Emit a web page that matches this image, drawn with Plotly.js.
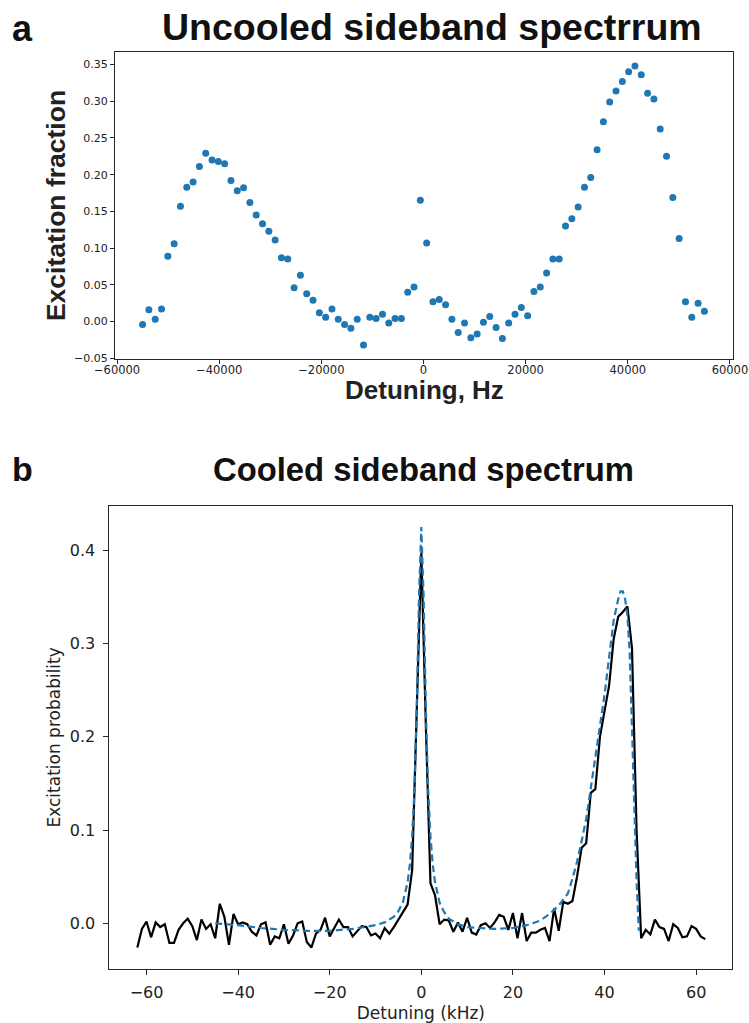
<!DOCTYPE html>
<html>
<head>
<meta charset="utf-8">
<script src="https://cdn.plot.ly/plotly-3.0.1.min.js"></script>
<style>html,body{margin:0;padding:0;background:#fff;}#chart{width:749px;height:1023px;}</style>
</head>
<body>
<div id="chart"></div>
<script>
// ---- Panel a: uncooled sideband spectrum (Hz, excitation fraction) ----
var uncooledDetuning = [-55000, -53764, -52528, -51292, -50056, -48820, -47584, -46348, -45112, -43876,
  -42640, -41404, -40169, -38933, -37697, -36461, -35225, -33989, -32753, -31517,
  -30281, -29045, -27809, -26573, -25337, -24101, -22865, -21629, -20393, -19157,
  -17921, -16685, -15449, -14213, -12978, -11742, -10506, -9270, -8034, -6798,
  -5562, -4326, -3090, -1854, -618, 618, 1854, 3090, 4326, 5562,
  6798, 8034, 9270, 10506, 11742, 12978, 14213, 15449, 16685, 17921,
  19157, 20393, 21629, 22865, 24101, 25337, 26573, 27809, 29045, 30281,
  31517, 32753, 33989, 35225, 36461, 37697, 38933, 40169, 41404, 42640,
  43876, 45112, 46348, 47584, 48820, 50056, 51292, 52528, 53764, 55000];
var uncooledFraction = [-0.004, 0.016, 0.003, 0.017, 0.089, 0.106, 0.157, 0.183, 0.190, 0.211,
  0.229, 0.220, 0.218, 0.215, 0.192, 0.178, 0.182, 0.162, 0.145, 0.133,
  0.123, 0.111, 0.087, 0.085, 0.046, 0.063, 0.038, 0.029, 0.012, 0.006,
  0.017, 0.003, -0.004, -0.009, 0.003, -0.032, 0.006, 0.004, 0.010, -0.002,
  0.004, 0.004, 0.040, 0.047, 0.165, 0.107, 0.027, 0.030, 0.023, 0.003,
  -0.015, -0.002, -0.022, -0.017, -0.001, 0.007, -0.008, -0.023, -0.002, 0.010,
  0.019, 0.008, 0.041, 0.047, 0.066, 0.085, 0.085, 0.130, 0.140, 0.156,
  0.183, 0.196, 0.234, 0.272, 0.299, 0.314, 0.327, 0.340, 0.348, 0.336,
  0.311, 0.303, 0.262, 0.225, 0.169, 0.113, 0.027, 0.006, 0.025, 0.014];
var topXTickVals = [-60000, -40000, -20000, 0, 20000, 40000, 60000];
var topXTickText = ['\u221260000', '\u221240000', '\u221220000', '0', '20000', '40000', '60000'];
var topYTickVals = [-0.05, 0, 0.05, 0.10, 0.15, 0.20, 0.25, 0.30, 0.35];
var topYTickText = ['\u22120.05', '0.00', '0.05', '0.10', '0.15', '0.20', '0.25', '0.30', '0.35'];

// ---- Panel b: cooled sideband spectrum (kHz, excitation probability) ----
var cooledDetuning = [-62, -61, -60, -59, -58, -57, -56, -55, -54, -53,
  -52, -51, -50, -49, -48, -47, -46, -45, -44, -43,
  -42, -41, -40, -39, -38, -37, -36, -35, -34, -33,
  -32, -31, -30, -29, -28, -27, -26, -25, -24, -23,
  -22, -21, -20, -19, -18, -17, -16, -15, -14, -13,
  -12, -11, -10, -9, -8, -7, -6, -5, -4, -3,
  -2, -1, 0, 1, 2, 3, 4, 5, 6, 7,
  8, 9, 10, 11, 12, 13, 14, 15, 16, 17,
  18, 19, 20, 21, 22, 23, 24, 25, 26, 27,
  28, 29, 30, 31, 32, 33, 34, 35, 36, 37,
  38, 39, 40, 41, 42, 43, 44, 45, 46, 47,
  48, 49, 50, 51, 52, 53, 54, 55, 56, 57,
  58, 59, 60, 61, 62];
var cooledProbability = [-0.026, -0.006, 0.002, -0.015, 0.001, -0.004, -0.001, -0.021, -0.021, -0.007,
  0.000, 0.005, -0.003, -0.018, 0.004, -0.006, -0.001, -0.016, 0.021, 0.007,
  -0.023, 0.010, -0.001, 0.001, -0.001, -0.009, -0.013, -0.001, 0.001, -0.023,
  -0.014, -0.016, -0.001, -0.022, -0.013, 0.000, 0.002, -0.020, -0.026, -0.011,
  -0.007, 0.006, -0.014, -0.005, 0.004, -0.004, -0.004, -0.014, -0.008, -0.003,
  -0.004, -0.013, -0.011, -0.016, -0.005, -0.011, -0.004, 0.004, 0.013, 0.020,
  0.057, 0.220, 0.398, 0.210, 0.043, 0.030, -0.001, 0.004, 0.003, -0.009,
  0.001, -0.009, 0.006, -0.010, -0.012, -0.002, 0.000, -0.005, 0.001, 0.009,
  0.007, -0.007, 0.011, -0.016, 0.011, -0.019, -0.010, -0.010, -0.007, -0.005,
  -0.019, 0.016, -0.008, 0.023, 0.021, 0.024, 0.050, 0.081, 0.086, 0.140,
  0.144, 0.200, 0.227, 0.255, 0.305, 0.329, 0.334, 0.340, 0.295, 0.100,
  -0.016, -0.007, -0.012, 0.004, -0.004, -0.006, -0.019, -0.001, -0.005, -0.015,
  -0.014, -0.003, -0.006, -0.014, -0.017];
var fitDetuning = [-45, -40, -35, -30, -25, -20, -15, -12, -10, -8,
  -6, -5, -4, -3, -2.5, -2, -1.5, -1, -0.5, 0,
  0.5, 1, 1.5, 2, 2.5, 3, 4, 5, 6, 8,
  10, 13, 16, 20, 23, 26, 28, 30, 31, 32,
  33, 34, 35, 36, 37, 38, 39, 40, 41, 42,
  43, 43.5, 44, 44.5, 45, 45.5, 46, 46.5, 47, 47.5];
var fitProbability = [0.000, -0.002, -0.005, -0.007, -0.008, -0.008, -0.006, -0.004, -0.002, 0.001,
  0.007, 0.013, 0.023, 0.044, 0.063, 0.093, 0.143, 0.229, 0.351, 0.425,
  0.351, 0.229, 0.143, 0.093, 0.063, 0.044, 0.022, 0.012, 0.005, -0.001,
  -0.004, -0.005, -0.006, -0.005, -0.002, 0.003, 0.010, 0.019, 0.025, 0.032,
  0.048, 0.066, 0.088, 0.112, 0.145, 0.178, 0.207, 0.245, 0.285, 0.325,
  0.348, 0.356, 0.356, 0.348, 0.330, 0.290, 0.210, 0.125, 0.045, -0.008];
var botXTickVals = [-60, -40, -20, 0, 20, 40, 60];
var botXTickText = ['\u221260', '\u221240', '\u221220', '0', '20', '40', '60'];
var botYTickVals = [0, 0.1, 0.2, 0.3, 0.4];
var botYTickText = ['0.0', '0.1', '0.2', '0.3', '0.4'];

var blue = '#1f77b4';
var axisColor = '#262626';
var tickColor = '#262626';

var traces = [
  {x: uncooledDetuning, y: uncooledFraction, type: 'scatter', mode: 'markers',
   marker: {color: blue, size: 7}, xaxis: 'x', yaxis: 'y', name: 'uncooled'},
  {x: cooledDetuning, y: cooledProbability, type: 'scatter', mode: 'lines',
   line: {color: 'black', width: 2.2}, xaxis: 'x2', yaxis: 'y2', name: 'data'},
  {x: fitDetuning, y: fitProbability, type: 'scatter', mode: 'lines',
   line: {color: blue, width: 2.2, dash: '7px,4px'}, xaxis: 'x2', yaxis: 'y2', name: 'fit'}
];

function baseAxis(extra) {
  var a = {showline: true, mirror: true, linecolor: axisColor, linewidth: 1,
    ticks: 'outside', ticklen: 4, tickwidth: 1, tickcolor: tickColor,
    showgrid: false, zeroline: false, automargin: false, tickmode: 'array'};
  for (var k in extra) a[k] = extra[k];
  return a;
}

var layout = {
  width: 749, height: 1023,
  margin: {l: 0, r: 0, t: 0, b: 0},
  paper_bgcolor: 'white', plot_bgcolor: 'white',
  showlegend: false,
  xaxis: baseAxis({anchor: 'y', domain: [115 / 749, 733 / 749], range: [-60400, 60600],
    tickvals: topXTickVals, ticktext: topXTickText, ticklabelstandoff: -4,
    tickfont: {family: 'DejaVu Sans', size: 11.5, color: '#222'}}),
  yaxis: baseAxis({anchor: 'x', domain: [(1023 - 359) / 1023, (1023 - 52) / 1023], range: [-0.051, 0.367],
    tickvals: topYTickVals, ticktext: topYTickText,
    tickfont: {family: 'DejaVu Sans', size: 11, color: '#222'},
    title: {text: '<b>Excitation fraction</b>', standoff: 0,
      font: {family: 'Liberation Sans', size: 26.5, color: '#222'}}}),
  xaxis2: baseAxis({anchor: 'y2', domain: [109.4 / 749, 732.3 / 749], range: [-68.1, 67.9],
    tickvals: botXTickVals, ticktext: botXTickText, ticklen: 5, ticklabelstandoff: 4,
    tickfont: {family: 'DejaVu Sans', size: 16, color: '#222'},
    title: {text: 'Detuning (kHz)', standoff: 6,
      font: {family: 'DejaVu Sans', size: 17, color: '#222'}}}),
  yaxis2: baseAxis({anchor: 'x2', domain: [(1023 - 969) / 1023, (1023 - 505.7) / 1023], range: [-0.049, 0.448],
    tickvals: botYTickVals, ticktext: botYTickText, ticklen: 5, ticklabelstandoff: 5,
    tickfont: {family: 'DejaVu Sans', size: 16, color: '#222'},
    title: {text: 'Excitation probability', standoff: 4,
      font: {family: 'DejaVu Sans', size: 17, color: '#222'}}}),
  annotations: [
    {text: '<b>a</b>', xref: 'paper', yref: 'paper', x: 10 / 749, y: 1 - 29 / 1023,
     xanchor: 'left', yanchor: 'middle', showarrow: false,
     font: {family: 'Liberation Sans', size: 36, color: '#111'}},
    {text: '<b>Uncooled sideband spectrrum</b>', xref: 'paper', yref: 'paper', x: 432 / 749, y: 1 - 27 / 1023,
     xanchor: 'center', yanchor: 'middle', showarrow: false,
     font: {family: 'Liberation Sans', size: 37.5, color: '#111'}},
    {text: '<b>Detuning, Hz</b>', xref: 'paper', yref: 'paper', x: 424 / 749, y: 1 - 374 / 1023,
     xanchor: 'center', yanchor: 'top', showarrow: false, borderpad: 0,
     font: {family: 'Liberation Sans', size: 26, color: '#222'}},
    {text: '<b>b</b>', xref: 'paper', yref: 'paper', x: 10 / 749, y: 1 - 469 / 1023,
     xanchor: 'left', yanchor: 'middle', showarrow: false,
     font: {family: 'Liberation Sans', size: 34, color: '#111'}},
    {text: '<b>Cooled sideband spectrum</b>', xref: 'paper', yref: 'paper', x: 423 / 749, y: 1 - 469 / 1023,
     xanchor: 'center', yanchor: 'middle', showarrow: false,
     font: {family: 'Liberation Sans', size: 32.8, color: '#111'}}
  ]
};

Plotly.newPlot('chart', traces, layout, {displayModeBar: false, staticPlot: true});
</script>
</body>
</html>
